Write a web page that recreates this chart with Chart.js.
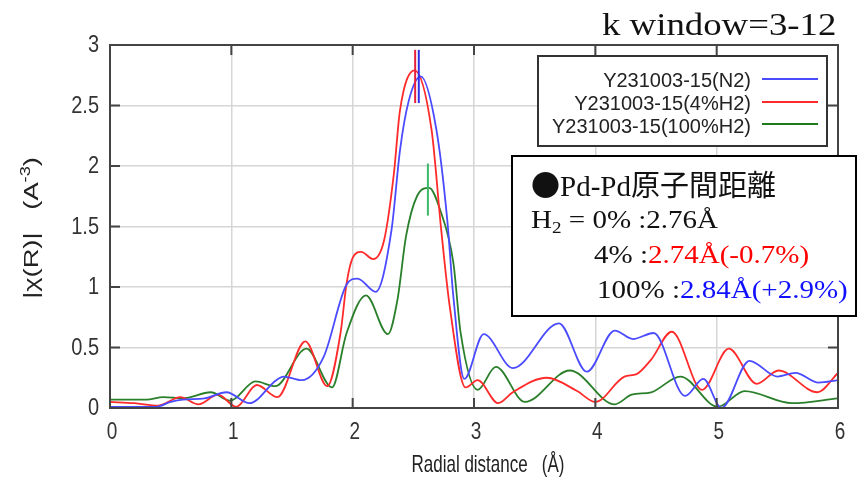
<!DOCTYPE html>
<html lang="ja">
<head>
<meta charset="UTF-8">
<title>Pd-Pd RDF</title>
<script src="https://cdn.jsdelivr.net/npm/chart.js"></script>
<style>
  body { margin: 0; background: #fff; }
  #wrap { position: relative; width: 860px; height: 479px; overflow: hidden; }
  #wrap canvas { position: absolute; left: 0; top: 0; }
  .abs { position: absolute; white-space: nowrap; }
  .title { left: 602px; top: 8px; font: 32px/32px "Liberation Serif", serif; color: #111;
    transform: scaleX(1.15); transform-origin: left top; }
  .legend-box { left: 537px; top: 55px; width: 291px; height: 92px; box-sizing: border-box;
    border: 2px solid #333; background: #fff; }
  .legend-text { right: 109px; font: 20px/20px "Liberation Sans", Arial, sans-serif; color: #222; text-align: right; }
  .legend-line { left: 762px; width: 56px; height: 2px; }
  .note-box { left: 511px; top: 155px; width: 346px; height: 162px; box-sizing: border-box;
    border: 2px solid #000; background: #fff; }
  .note { font-family: "Liberation Serif", "Noto Sans CJK JP", serif; color: #111; }
  .note1 { left: 531px; top: 169px; font-size: 29px; line-height: 29px; }
  .note1 .dot { font-family: "Noto Sans CJK JP", sans-serif; }
  .note2 { font-size: 25px; line-height: 25px; transform: scaleX(1.16); transform-origin: left top; }
  .note2 sub { font-size: 0.66em; vertical-align: -0.3em; line-height: 0; }
  .red { color: #ff0000; }
  .blue { color: #1010ff; }
</style>
</head>
<body>
<div id="wrap">
  <canvas id="chart" width="860" height="479"></canvas>

  <div class="abs title">k window=3-12</div>

  <div class="abs legend-box"></div>
  <div class="abs legend-text" style="top:70px">Y231003-15(N2)</div>
  <div class="abs legend-text" style="top:93px">Y231003-15(4%H2)</div>
  <div class="abs legend-text" style="top:116px">Y231003-15(100%H2)</div>
  <div class="abs legend-line" style="top:78px;background:#4a4aff"></div>
  <div class="abs legend-line" style="top:101px;background:#ff2a2a"></div>
  <div class="abs legend-line" style="top:123px;background:#1f7a1f"></div>

  <div class="abs note-box"></div>
  <div class="abs note note1"><span class="dot">●</span>Pd-Pd原子間距離</div>
  <div class="abs note note2" style="left:531px;top:207px">H<sub>2</sub> = 0% :2.76Å</div>
  <div class="abs note note2" style="left:594px;top:242px">4% :<span class="red">2.74Å(-0.7%)</span></div>
  <div class="abs note note2" style="left:597px;top:277px">100% :<span class="blue">2.84Å(+2.9%)</span></div>
</div>

<script>
  // radial distance (Å) and |χ(R)|, one pair of arrays per sample
  const rN2 = [0, 0.2, 0.38, 0.5, 0.6, 0.78, 0.96, 1.15, 1.37, 1.43, 1.58, 1.76, 1.95, 2.04, 2.19,
    2.32, 2.39, 2.46, 2.56, 2.69, 2.78, 2.83, 2.92, 3.08, 3.32, 3.70, 3.93, 4.16, 4.31, 4.48,
    4.74, 4.89, 5.04, 5.27, 5.50, 5.65, 5.84, 6.0];
  const chiN2 = [0.01, 0.01, 0.01, 0.05, 0.07, 0.08, 0.13, 0.04, 0.23, 0.26, 0.23, 0.42, 1.02, 1.07, 0.96,
    1.47, 2.13, 2.53, 2.74, 2.30, 1.55, 0.92, 0.24, 0.61, 0.33, 0.70, 0.30, 0.64, 0.57, 0.62,
    0.10, 0.24, 0.00, 0.39, 0.26, 0.29, 0.21, 0.23];

  const rH4 = [0, 0.2, 0.4, 0.58, 0.73, 0.89, 1.04, 1.21, 1.38, 1.61, 1.79, 1.90, 1.95, 2.0, 2.07,
    2.17, 2.26, 2.34, 2.39, 2.51, 2.65, 2.73, 2.80, 2.93, 3.03, 3.20, 3.32, 3.60, 3.85, 4.0,
    4.24, 4.34, 4.46, 4.63, 4.88, 5.10, 5.33, 5.51, 5.83, 6.0];
  const chiH4 = [0.05, 0.04, 0.02, 0.09, 0.03, 0.11, 0.01, 0.19, 0.09, 0.55, 0.18, 0.62, 1.03, 1.24, 1.29,
    1.23, 1.39, 1.94, 2.46, 2.79, 2.30, 1.47, 0.84, 0.17, 0.23, 0.04, 0.13, 0.25, 0.14, 0.05,
    0.26, 0.28, 0.40, 0.63, 0.15, 0.49, 0.20, 0.31, 0.13, 0.29];

  const rH100 = [0, 0.3, 0.44, 0.6, 0.83, 0.99, 1.2, 1.36, 1.62, 1.83, 1.95, 2.11, 2.29, 2.37, 2.44,
    2.53, 2.63, 2.72, 2.83, 2.89, 3.03, 3.18, 3.42, 3.79, 4.16, 4.30, 4.46, 4.70, 5.01, 5.23,
    5.62, 6.0];
  const chiH100 = [0.07, 0.07, 0.09, 0.08, 0.13, 0.06, 0.22, 0.18, 0.49, 0.17, 0.62, 0.93, 0.61, 0.9, 1.42,
    1.75, 1.82, 1.64, 1.20, 0.62, 0.15, 0.34, 0.05, 0.31, 0.03, 0.11, 0.13, 0.26, 0.01, 0.14,
    0.04, 0.08];

  // short vertical marks at the main peak: N2, 4%H2, 100%H2
  const peakR = [2.545, 2.515, 2.62];
  const peakLow = [2.52, 2.52, 1.59];
  const peakHigh = [2.96, 2.96, 2.02];

  const xTicks = [0, 1, 2, 3, 4, 5, 6];
  const xTickLabels = ['0', '1', '2', '3', '4', '5', '6'];
  const yTicks = [0, 0.5, 1, 1.5, 2, 2.5, 3];
  const yTickLabels = ['0', '0.5', '1', '1.5', '2', '2.5', '3'];

  const toPoints = (xs, ys) => xs.map((x, i) => ({ x: x, y: ys[i] }));

  function curve(label, xs, ys, color) {
    return {
      label: label,
      data: toPoints(xs, ys),
      borderColor: color,
      borderWidth: 1.8,
      pointRadius: 0,
      cubicInterpolationMode: 'monotone',
      fill: false
    };
  }

  function marker(i, color) {
    return {
      label: 'peak' + i,
      data: [{ x: peakR[i], y: peakLow[i] }, { x: peakR[i], y: peakHigh[i] }],
      borderColor: color,
      borderWidth: 2,
      pointRadius: 0,
      fill: false
    };
  }

  // frame, inner ticks, tick labels and axis titles (the picture's text is squeezed, so draw it here)
  const framePlugin = {
    id: 'frame',
    afterDatasetsDraw(chart) {
      const ctx = chart.ctx;
      const a = chart.chartArea;
      const xs = chart.scales.x, ys = chart.scales.y;
      ctx.save();
      ctx.strokeStyle = '#444';
      ctx.lineWidth = 2;
      ctx.strokeRect(a.left, a.top, a.right - a.left, a.bottom - a.top);
      ctx.beginPath();
      xTicks.forEach(v => {
        const px = xs.getPixelForValue(v);
        ctx.moveTo(px, a.bottom); ctx.lineTo(px, a.bottom - 10);
        ctx.moveTo(px, a.top); ctx.lineTo(px, a.top + 10);
      });
      yTicks.forEach(v => {
        const py = ys.getPixelForValue(v);
        ctx.moveTo(a.left, py); ctx.lineTo(a.left + 10, py);
        ctx.moveTo(a.right, py); ctx.lineTo(a.right - 10, py);
      });
      ctx.stroke();

      ctx.fillStyle = '#333';
      ctx.textBaseline = 'middle';
      ctx.font = '20px "Liberation Sans", Arial, sans-serif';
      ctx.textAlign = 'right';
      yTicks.forEach((v, i) => {
        ctx.save();
        ctx.translate(a.left - 11, ys.getPixelForValue(v) + 1);
        ctx.scale(1, 1.15);
        ctx.fillText(yTickLabels[i], 0, 0);
        ctx.restore();
      });
      ctx.font = '19px "Liberation Sans", Arial, sans-serif';
      ctx.textAlign = 'center';
      xTicks.forEach((v, i) => {
        ctx.save();
        ctx.translate(xs.getPixelForValue(v) + 2, a.bottom + 24);
        ctx.scale(1, 1.3);
        ctx.fillText(xTickLabels[i], 0, 0);
        ctx.restore();
      });

      // x title
      ctx.fillStyle = '#222';
      ctx.textBaseline = 'alphabetic';
      ctx.font = '17px "Liberation Sans", Arial, sans-serif';
      ctx.save();
      ctx.translate(488, 472);
      ctx.scale(1, 1.4);
      ctx.fillText('Radial distance   (Å)', 0, 0);
      ctx.restore();

      // y title, rotated, with a raised "-3"
      ctx.save();
      ctx.translate(38, 228);
      ctx.rotate(-Math.PI / 2);
      ctx.scale(1.3, 1);
      ctx.textAlign = 'left';
      const big = '21px "Liberation Sans", Arial, sans-serif';
      const small = '14px "Liberation Sans", Arial, sans-serif';
      const parts = [['|χ(R)|   (A', big, 0], ['-3', small, -8], [')', big, 0]];
      let total = 0;
      parts.forEach(p => { ctx.font = p[1]; total += ctx.measureText(p[0]).width; });
      let cx = -total / 2;
      parts.forEach(p => {
        ctx.font = p[1];
        ctx.fillText(p[0], cx, p[2]);
        cx += ctx.measureText(p[0]).width;
      });
      ctx.restore();
      ctx.restore();
    }
  };

  new Chart(document.getElementById('chart').getContext('2d'), {
    type: 'line',
    data: {
      datasets: [
        marker(0, '#3030e8'),
        marker(1, '#e8203a'),
        marker(2, '#3cb86a'),
        curve('Y231003-15(N2)', rN2, chiN2, '#4a4aff'),
        curve('Y231003-15(4%H2)', rH4, chiH4, '#ff2a2a'),
        curve('Y231003-15(100%H2)', rH100, chiH100, '#2a7f2a')
      ]
    },
    options: {
      responsive: false,
      animation: false,
      events: [],
      layout: { padding: { top: 45, right: 22, bottom: 0, left: 0 } },
      plugins: { legend: { display: false }, tooltip: { enabled: false } },
      scales: {
        x: {
          type: 'linear', min: 0, max: 6,
          ticks: { stepSize: 1, display: false },
          grid: { color: '#d6d6d6', lineWidth: 1.5, drawTicks: false },
          border: { display: false },
          afterFit: s => { s.height = 71; }
        },
        y: {
          min: 0, max: 3,
          ticks: { stepSize: 0.5, display: false },
          grid: { color: '#d6d6d6', lineWidth: 1.5, drawTicks: false },
          border: { display: false },
          afterFit: s => { s.width = 110; }
        }
      }
    },
    plugins: [framePlugin]
  });
</script>
</body>
</html>
